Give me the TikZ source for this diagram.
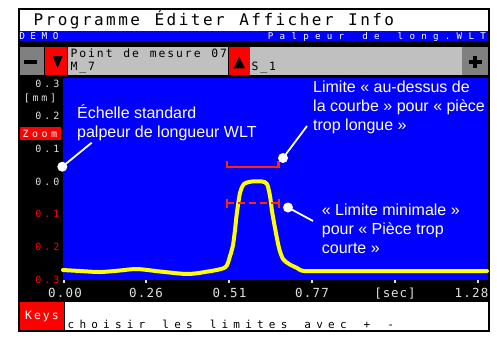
\documentclass[tikz,border=0pt]{standalone}
\usepackage{fontspec}
\setmainfont{Liberation Sans}
\newfontfamily\uimono{DejaVu Sans Mono}

% Fixed-pitch text: every character sits centred in a cell of #1 pt
\ExplSyntaxOn
\NewDocumentCommand\cells{mm}{\str_map_inline:nn{#2}{\makebox[#1pt][c]{##1}}}
\ExplSyntaxOff

\definecolor{scrblue}{RGB}{0,0,255}
\definecolor{scrred}{RGB}{255,0,0}
\definecolor{scryellow}{RGB}{255,255,0}
\definecolor{lightgrey}{RGB}{192,192,192}
\definecolor{darkgrey}{RGB}{128,128,128}
\definecolor{labelgrey}{RGB}{225,225,225}
\definecolor{limitred}{RGB}{255,40,0}

\begin{document}
\begin{tikzpicture}[x=1pt,y=-1pt,
  mono/.style={font=\uimono\fontsize{#1}{#1}\selectfont, inner sep=0pt, outer sep=0pt},
  ylab/.style={mono=10, anchor=base east, text=labelgrey},
  ylabneg/.style={mono=10, anchor=base east, text=scrred},
  xlab/.style={mono=12.5, anchor=base, text=labelgrey},
  field/.style={mono=11.4, anchor=base west, text=black},
  ann/.style={font=\fontsize{16}{19}\selectfont, text=white, inner sep=0pt, anchor=base west},
  dot/.style={circle, fill=white, inner sep=0pt, minimum size=10pt},
  leader/.style={white, line width=1.8pt},
  limit/.style={limitred, line width=2.4pt},
  tick/.style={fill=labelgrey}
]
\useasboundingbox (0,0) rectangle (497,349);
\fill[white] (0,0) rectangle (497,349);

% screen frame
\fill[black] (18,8) rectangle (490,331.5);

% menu bar
\fill[white] (20,10) rectangle (487.5,31);
\node[mono=16, anchor=base west, text=black] (menu) at (32.4,25) {\cells{12.1}{Programme Éditer Afficher Info}};

% status bar
\fill[scrblue] (20,31) rectangle (487.5,41);
\node[mono=9.4, anchor=base west, text=white] (demo) at (16.5,39.8) {\cells{11.2}{DEMO}};
\node[mono=9.2, anchor=base east, text=white] (probe) at (489,39.6) {\cells{11.8}{Palpeur de long.WLT}};

% control row
\fill[darkgrey] (20,47) rectangle (44,75);
\fill[black] (24,60) rectangle (37,64);
\fill[scrred] (45,47) rectangle (67,75);
\fill[black] (52.6,56) -- (62.6,56) -- (57.6,68.3) -- cycle;
\fill[lightgrey] (68,47) rectangle (228,75);
\node[field] (point) at (69.6,57) {\cells{8.8}{Point de mesure 07}};
\node[field] (mname) at (69.6,70.5) {\cells{8.8}{M_7}};
\fill[scrred] (228.6,47) rectangle (249.5,75);
\fill[black] (239.2,56.7) -- (245,68.3) -- (233.4,68.3) -- cycle;
\fill[lightgrey] (250,47) rectangle (461.5,75);
\node[field] (sname) at (250.6,70) {\cells{8.8}{S_1}};
\fill[darkgrey] (462,47) rectangle (487.5,75);
\fill[black] (468.5,59.8) rectangle (481.5,63.8);
\fill[black] (473,55.6) rectangle (477,67.8);

% plot area
\fill[scrblue] (62.5,77.5) rectangle (487.5,280);

% vertical scale
\node[ylab] (y3) at (60.8,87) {\cells{9}{0.3}};
\node[ylab] (ymm) at (57.4,101.5) {\cells{8.7}{[mm]}};
\node[ylab] (y2) at (60.8,119.7) {\cells{9}{0.2}};
\node[fill=scrred, minimum width=41pt, minimum height=13pt, inner sep=0pt,
      text=white, font=\uimono\fontsize{10}{10}\selectfont] (zoom) at (40,133.5) {\cells{9.5}{Zoom}};
\node[ylab] (y1) at (60.8,152.4) {\cells{9}{0.1}};
\node[ylab] (y0) at (60.8,185.1) {\cells{9}{0.0}};
\node[ylabneg] (ym1) at (60.8,217.8) {\cells{9}{0.1}};
\node[ylabneg] (ym2) at (60.8,250.5) {\cells{9}{0.2}};
\node[ylabneg] (ym3) at (60.8,283.2) {\cells{9}{0.3}};

% time axis
\foreach \tx in {64,146,229,312,395,478}
  \fill[tick] (\tx-0.7,280.3) rectangle (\tx+0.7,283);
\node[xlab] (t0) at (65,297.5) {\cells{8.7}{0.00}};
\node[xlab] (t1) at (146,297.5) {\cells{8.7}{0.26}};
\node[xlab] (t2) at (229.5,297.5) {\cells{8.7}{0.51}};
\node[xlab] (t3) at (312,297.5) {\cells{8.7}{0.77}};
\node[xlab] (tu) at (395,297.5) {\cells{8.4}{[sec]}};
\node[xlab] (t5) at (471.5,297.5) {\cells{8.7}{1.28}};

% key bar
\node[fill=scrred, minimum width=44pt, minimum height=28pt, inner sep=0pt,
      text=white, font=\uimono\fontsize{11.5}{11.5}\selectfont] (keys) at (42,316) {\cells{8.9}{Keys}};
\fill[white] (64.5,302) rectangle (487.5,329.5);
\node[mono=11, anchor=base west, text=black] (hint) at (65.1,328) {\cells{11.84}{choisir les limites avec +  -}};

% measured profile
\draw[scryellow, line width=4pt, line join=round, line cap=round]
  plot[smooth, tension=0.45] coordinates {
  (63,270) (80,271) (100,272) (120,270.5) (137,269) (160,271.5) (187,274)
  (205,272) (225,267.5) (230,256) (233,245) (235,230) (237,212) (240,193)
  (244,184) (252,181.5) (262,181.5) (267,184) (270,196) (272,211) (275,228)
  (279,248) (283,259) (289,264) (297,268) (304,271) (330,271) (400,271) (487,271)};

% limit above the curve
\coordinate (ua) at (227,161.3);
\coordinate (ub) at (227,167);
\coordinate (uc) at (278.5,167);
\coordinate (ud) at (278.5,160.5);
\draw[limit, line join=miter] (ua) -- (ub) -- (uc) -- (ud);

% minimum limit
\coordinate (la) at (227,203);
\coordinate (lb) at (279,203);
\draw[limitred, line width=2pt, dash pattern=on 7pt off 4pt] (la) -- (lb);
\draw[limitred, line width=2pt] ([yshift=-4.5pt]la) -- ([yshift=4.5pt]la);
\draw[limitred, line width=2pt] ([yshift=-4.5pt]lb) -- ([yshift=4.5pt]lb);

% call-outs
\coordinate (p1) at (62.3,166.7);
\coordinate (e1) at (91.7,142.7);
\draw[leader] (p1) -- (e1);
\node[dot] (d1) at (p1) {};
\node[ann] (a1a) at (77,118) {Échelle standard};
\node[ann] (a1b) at (77,137.5) {palpeur de longueur WLT};

\coordinate (p2) at (283,158);
\coordinate (e2) at (307,126);
\draw[leader] (p2) -- (e2);
\node[dot] (d2) at (p2) {};
\node[ann] (a2a) at (313,92) {Limite « au-dessus de};
\node[ann] (a2b) at (313,111.3) {la courbe » pour « pièce};
\node[ann] (a2c) at (313,130.6) {trop longue »};

\coordinate (p3) at (288,207.5);
\coordinate (e3) at (313,221);
\draw[leader] (p3) -- (e3);
\node[dot] (d3) at (p3) {};
\node[ann] (a3a) at (321.7,215) {« Limite minimale »};
\node[ann] (a3b) at (321.7,234) {pour « Pièce trop};
\node[ann] (a3c) at (321.7,253) {courte »};
\end{tikzpicture}
\end{document}
